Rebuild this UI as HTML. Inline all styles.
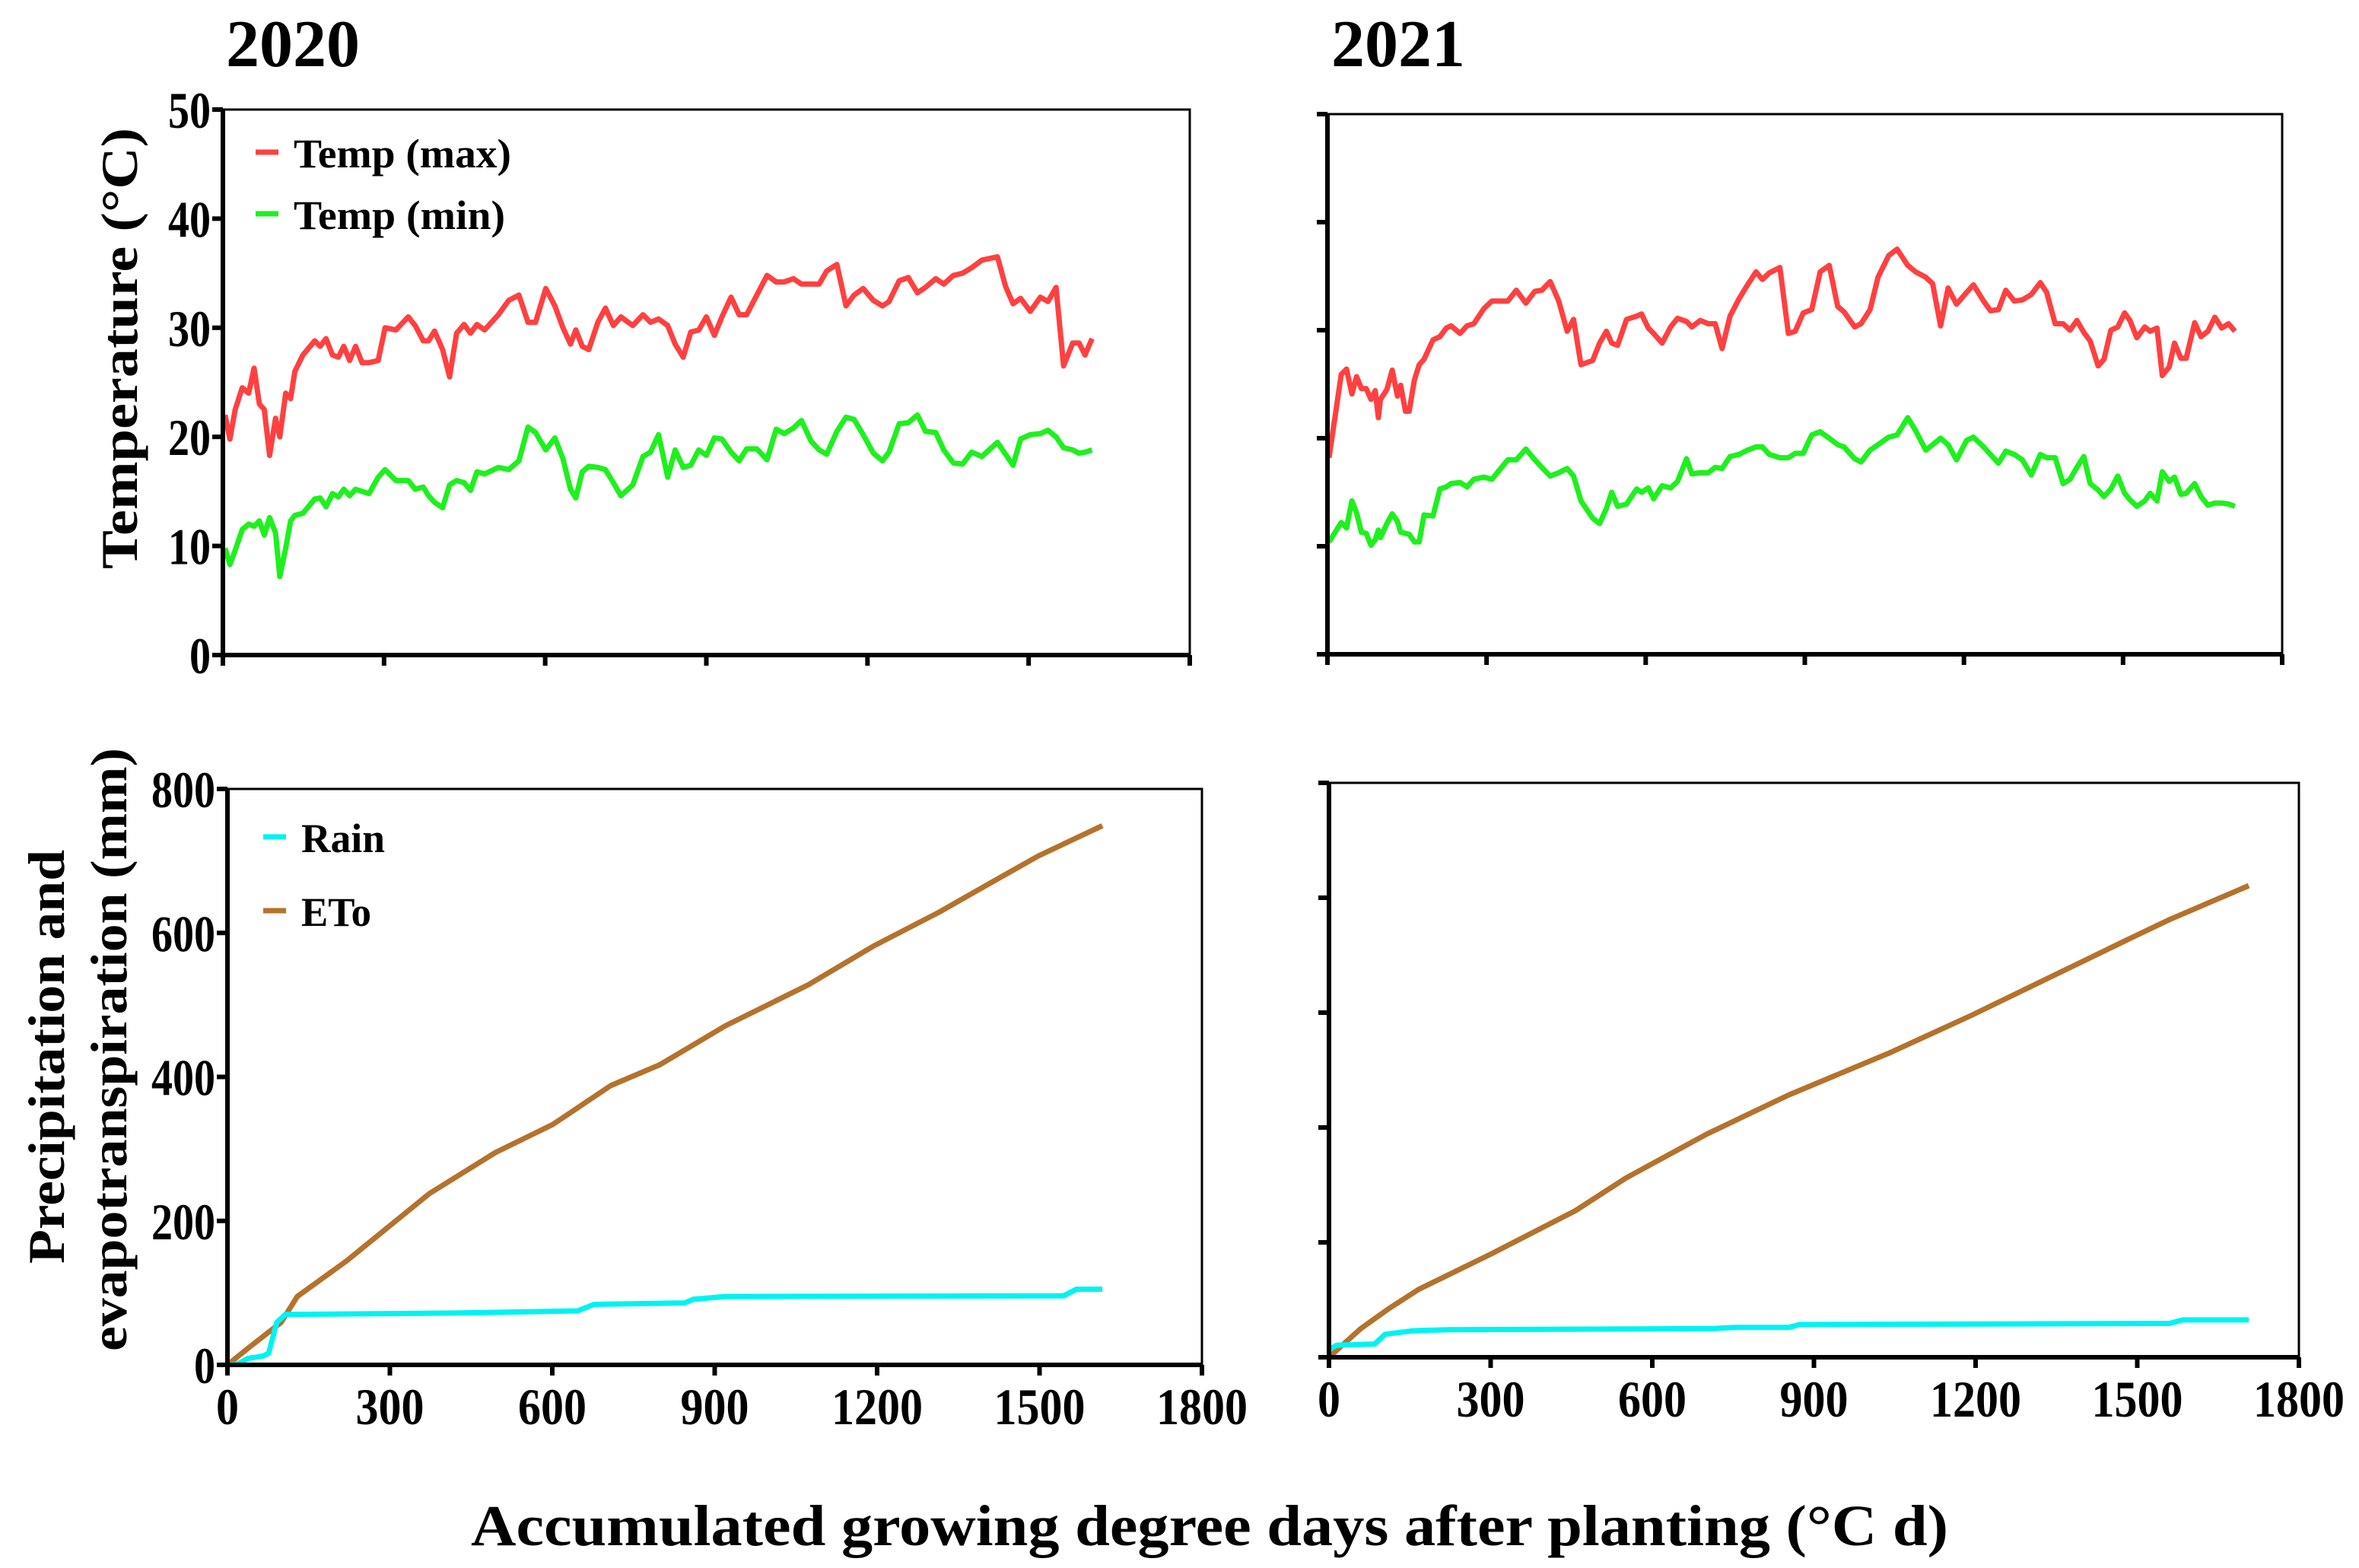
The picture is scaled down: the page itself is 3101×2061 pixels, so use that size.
<!DOCTYPE html>
<html><head><meta charset="utf-8"><style>
html,body{margin:0;padding:0;background:#fff;}
svg{display:block;font-family:"Liberation Serif",serif;font-weight:bold;}
</style></head><body>
<svg id="fig" width="3101" height="2061" viewBox="0 0 3101 2061" xmlns="http://www.w3.org/2000/svg">
<rect width="3101" height="2061" fill="#fff"/>
<text x="297" y="87" font-size="88">2020</text>
<text x="1750" y="87" font-size="88">2021</text>
<text x="619" y="2031" font-size="76" textLength="1942" lengthAdjust="spacingAndGlyphs">Accumulated growing degree days after planting (°C d)</text>
<text transform="translate(180,748) rotate(-90)" font-size="68" textLength="580" lengthAdjust="spacingAndGlyphs">Temperature (°C)</text>
<text transform="translate(84,1661) rotate(-90)" font-size="68" textLength="544" lengthAdjust="spacingAndGlyphs">Precipitation and</text>
<text transform="translate(166,1776) rotate(-90)" font-size="68" textLength="793" lengthAdjust="spacingAndGlyphs">evapotranspiration (mm)</text>
<g id="plots"></g>
</svg>
<script>
// ---- 2020 temperature ----
const gdd2020T = [4,13,23,36,48,58,68,77,87,98,106,117,126,134,149,171,181,192,204,215,225,236,247,259,272,289,302,322,345,358,373,383,394,409,422,435,449,461,473,487,513,532,551,568,582,601,618,633,647,657,669,681,698,712,727,741,763,782,796,811,828,842,857,871,886,900,915,929,946,961,975,994,1013,1030,1045,1062,1077,1095,1110,1124,1143,1160,1175,1192,1211,1228,1240,1259,1276,1293,1308,1327,1342,1360,1377,1394,1413,1442,1457,1471,1485,1503,1522,1536,1551,1565,1582,1594,1605,1618];
const tmax2020 = [22,19.8,22.5,24.5,24,26.3,23,22.5,18.3,21.7,20,24,23.5,26,27.5,28.8,28.3,29,27.5,27.3,28.3,27,28.3,26.8,26.8,27,30,29.8,31,30.2,28.8,28.8,29.7,28,25.5,29.5,30.3,29.5,30.3,29.8,31.2,32.5,33,30.5,30.5,33.6,32,30,28.5,29.8,28.3,28,30.5,31.8,30.2,31,30.2,31.2,30.5,30.8,30.2,28.5,27.3,29.6,29.8,31,29.3,31,32.8,31.2,31.2,33,34.8,34.2,34.2,34.5,34,34,34,35.2,35.8,32,33,33.6,32.5,32,32.4,34.3,34.6,33.2,33.7,34.5,34,34.8,35,35.5,36.2,36.5,33.8,32.2,32.7,31.5,32.8,32.4,33.7,26.5,28.6,28.6,27.5,29];
const tmin2020 = [9.8,8.3,9.6,11.5,12,11.8,12.3,11,12.6,11.2,7.2,9.8,12.3,12.8,13,14.3,14.4,13.6,14.8,14.5,15.2,14.6,15.2,15,14.8,16.3,17,16,16,15.2,15.4,14.6,14,13.5,15.6,16,15.8,15.1,16.8,16.6,17.2,17,17.8,20.9,20.4,18.8,19.9,18,15.2,14.4,16.8,17.3,17.2,17,15.8,14.6,15.6,18.2,18.6,20.2,16.3,18.8,17.2,17.4,18.8,18.3,19.9,19.8,18.6,17.8,18.9,18.9,17.9,20.7,20.3,20.8,21.5,19.6,18.8,18.4,20.5,21.8,21.6,20.2,18.5,17.8,18.6,21.2,21.3,22,20.5,20.4,18.8,17.6,17.5,18.6,18.2,19.5,18.4,17.4,19.8,20.2,20.3,20.6,20,19,18.8,18.5,18.6,18.8];
// ---- 2021 temperature ----
const gdd2021T = [3,26,36,46,55,64,73,82,90,96,100,112,122,132,138,147,154,164,173,182,199,212,224,233,250,263,276,295,310,340,356,374,391,404,420,436,452,464,478,500,513,526,536,547,564,583,592,605,615,631,647,660,677,687,703,718,731,744,759,776,792,808,820,833,853,869,882,897,913,929,946,962,974,994,1006,1023,1038,1058,1074,1094,1109,1128,1141,1156,1170,1186,1205,1218,1237,1250,1265,1279,1295,1310,1327,1344,1356,1372,1387,1400,1413,1426,1438,1453,1464,1477,1490,1503,1513,1526,1541,1551,1564,1574,1587,1597,1609,1619,1635,1647,1660,1673,1686,1699,1711];
const tmax2021 = [18.2,25.9,26.4,24.1,25.7,24.6,24.6,23.6,24.4,21.9,23.6,24.5,26.3,23.9,24.9,22.5,22.5,25.4,26.8,27.3,29.1,29.4,30.2,30.4,29.7,30.4,30.6,32,32.7,32.7,33.7,32.5,33.6,33.7,34.5,32.7,29.9,31,26.8,27.2,28.8,29.9,28.8,28.6,31,31.3,31.5,30.2,29.7,28.8,30.3,31.1,30.8,30.3,30.9,30.6,30.6,28.3,31.3,32.9,34.2,35.4,34.7,35.3,35.8,29.7,29.9,31.6,31.9,35.4,36,32.2,31.7,30.3,30.6,31.9,34.9,36.9,37.5,36,35.4,34.9,34.3,30.4,33.9,32.4,33.5,34.2,32.7,31.8,31.9,33.7,32.7,32.8,33.3,34.4,33.5,30.6,30.6,30,30.9,29.8,29,26.7,27.3,30,30.3,31.6,30.9,29.3,30.3,29.9,30.2,25.8,26.6,28.8,27.4,27.4,30.7,29.4,29.9,31.2,30.2,30.6,29.9];
const tmin2021 = [10.4,12.2,11.7,14.2,13.1,11.3,11.2,10.1,10.6,11.5,10.8,12.1,13,12.3,11.3,11.2,11.1,10.4,10.4,12.9,12.8,15.3,15.5,15.8,15.9,15.5,16.2,16.4,16.2,18,18,19,18,17.3,16.5,16.8,17.2,16.5,14.2,12.6,12.1,13.5,15,13.7,13.9,15.3,15,15.4,14.4,15.6,15.4,16,18.1,16.7,16.8,16.8,17.3,17.2,18.3,18.5,18.9,19.2,19.2,18.5,18.2,18.2,18.6,18.6,20.3,20.6,20,19.4,19.2,18.1,17.8,18.9,19.4,20.1,20.3,21.9,20.7,18.9,19.4,20,19.4,18,19.8,20.1,19.2,18.5,17.7,18.8,18.5,18,16.6,18.5,18.2,18.2,15.8,16.2,17.3,18.3,15.8,15.2,14.6,15.3,16.5,14.9,14.3,13.7,14.2,14.9,14.2,16.9,16,16.4,14.8,14.9,15.8,14.6,13.8,14,14,13.9,13.7];
// ---- 2020 water ----
const gdd2020E = [0,38,99,129,221,373,495,601,708,799,920,1073,1194,1315,1406,1498,1616];
const eto2020 = [0,23,59,95,145,238,295,334,388,417,471,528,582,629,668,707,749];
const gdd2020R = [0,18,38,65,76,91,107,418,647,677,845,860,920,1545,1568,1616];
const rain2020 = [0,1,9,12,16,59,70,72,75,84,86,91,95,96,105,105];
// ---- 2021 water ----
const gdd2021E = [0,59,110,166,299,457,551,702,854,1043,1194,1383,1484,1560,1707];
const eto2021 = [0,50,84,118,179,255,312,389,457,531,596,682,728,762,821];
const gdd2021R = [3,15,85,104,154,223,715,753,854,873,1560,1585,1707];
const rain2021 = [15,21,23,40,46,48,50,52,52,57,59,65,65];
// ---- ticks ----
const xTicks = [0,300,600,900,1200,1500,1800];
const tempTicks = [0,10,20,30,40,50];
const waterTicksL = [0,200,400,600,800];
const waterTicksR = [0,200,400,600,800,1000];

const NS = "http://www.w3.org/2000/svg";
const root = document.getElementById('plots');
function mk(tag, attrs, parent){const e=document.createElementNS(NS,tag);for(const k in attrs)e.setAttribute(k,attrs[k]);(parent||root).appendChild(e);return e;}

function panel(name, box, ymax, yTicks, showYLabels, showXLabels, series, legend){
  const g = mk('g',{});
  
  
  const sx = v => box.l + (v/1800)*(box.r-box.l);
  const sy = v => box.b - (v/ymax)*(box.b-box.t);
  series.forEach(s=>{
    let d=''; s.x.forEach((xv,i)=>{d+=(i?'L':'M')+sx(xv).toFixed(1)+' '+sy(s.y[i]).toFixed(1);});
    const p = mk('path',{d:d,fill:'none',stroke:s.color,'stroke-width':7,'stroke-linejoin':'round'},g);
    
    
  });
  const fr = mk('rect',{x:box.l,y:box.t,width:box.r-box.l,height:box.b-box.t,fill:'none',stroke:'#000','stroke-width':3},g);
  
  
  const ax = mk('path',{d:`M${box.l} ${box.t}V${box.b}H${box.r}`,fill:'none',stroke:'#000','stroke-width':6},g);
  
  
  xTicks.forEach(t=>{
    const x=sx(t);
    const tk = mk('line',{x1:x,x2:x,y1:box.b,y2:box.b+14,stroke:'#000','stroke-width':6},g);
    
    
    if(showXLabels){
      const s=String(t);
      const tx = mk('text',{x:x,y:box.b+78,'font-size':68,'text-anchor':'middle',textLength:s.length*30,lengthAdjust:'spacingAndGlyphs'},g);
      
      
      tx.textContent=s;
    }
  });
  yTicks.forEach(t=>{
    const y=sy(t);
    const tk = mk('line',{x1:box.l-14,x2:box.l,y1:y,y2:y,stroke:'#000','stroke-width':6},g);
    
    
    if(showYLabels){
      const s=String(t);
      const tx = mk('text',{x:box.l-16,y:y+24,'font-size':68,'text-anchor':'end',textLength:s.length*28,lengthAdjust:'spacingAndGlyphs'},g);
      
      
      tx.textContent=s;
    }
  });
  (legend||[]).forEach(L=>{
    const ln = mk('line',{x1:L.x,x2:L.x+30,y1:L.y,y2:L.y,stroke:L.color,'stroke-width':7},g);
    
    
    const tx = mk('text',{x:L.x+50,y:L.y+20,'font-size':54,textLength:L.w,lengthAdjust:'spacingAndGlyphs'},g);
    
    
    tx.textContent=L.text;
  });
}

panel('temp-2020-panel',{l:293,r:1564,t:144,b:861},50,tempTicks,true,false,
  [{name:'tmax-2020-line',x:gdd2020T,y:tmax2020,color:'#ff4040'},{name:'tmin-2020-line',x:gdd2020T,y:tmin2020,color:'#1ef01e'}],
  [{x:336,y:200,color:'#ff4040',text:'Temp (max)',w:286},{x:336,y:281,color:'#1ef01e',text:'Temp (min)',w:278}]);
panel('temp-2021-panel',{l:1745,r:3000,t:150,b:860},50,tempTicks,false,false,
  [{name:'tmax-2021-line',x:gdd2021T,y:tmax2021,color:'#ff4040'},{name:'tmin-2021-line',x:gdd2021T,y:tmin2021,color:'#1ef01e'}]);
panel('water-2020-panel',{l:299,r:1580,t:1037,b:1794},800,waterTicksL,true,true,
  [{name:'eto-2020-line',x:gdd2020E,y:eto2020,color:'#b5722c'},{name:'rain-2020-line',x:gdd2020R,y:rain2020,color:'#00f2f2'}],
  [{x:346,y:1100,color:'#00f2f2',text:'Rain',w:110},{x:346,y:1197,color:'#b5722c',text:'ETo',w:92}]);
panel('water-2021-panel',{l:1747,r:3022,t:1029,b:1784},1000,waterTicksR,false,true,
  [{name:'eto-2021-line',x:gdd2021E,y:eto2021,color:'#b5722c'},{name:'rain-2021-line',x:gdd2021R,y:rain2021,color:'#00f2f2'}]);
</script>
</body></html>
